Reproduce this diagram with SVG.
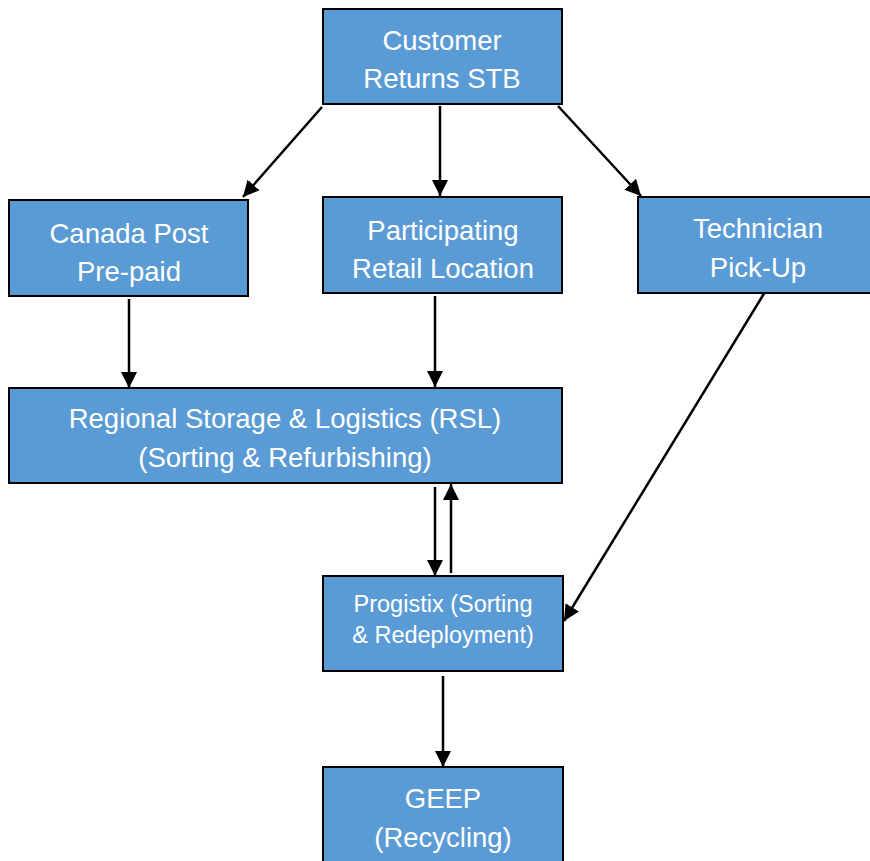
<svg xmlns="http://www.w3.org/2000/svg" width="870" height="861" viewBox="0 0 870 861">
<defs>
<marker id="ah" viewBox="0 0 10 10" refX="10" refY="5" markerWidth="6.4" markerHeight="6.4" orient="auto" markerUnits="strokeWidth">
<path d="M0,0 L10,5 L0,10 z" fill="#000"/>
</marker>
<style>
.box{fill:#5B9BD5;stroke:#000;stroke-width:2}
.t{font-family:"Liberation Sans",Arial,sans-serif;font-size:27.5px;fill:#fff;text-anchor:middle}
.s{font-size:23.5px}
.c{stroke:#000;stroke-width:2.5;fill:none;marker-end:url(#ah)}
</style>
</defs>
<rect width="870" height="861" fill="#fff"/>
<g id="connectors">
<line class="c" x1="322" y1="107" x2="243" y2="197"/>
<line class="c" x1="440" y1="106" x2="440" y2="196"/>
<line class="c" x1="558" y1="106" x2="641" y2="196"/>
<line class="c" x1="129" y1="299" x2="129" y2="388"/>
<line class="c" x1="435" y1="296" x2="435" y2="387"/>
<line class="c" x1="765" y1="292" x2="564" y2="621"/>
<line class="c" x1="435" y1="487" x2="435" y2="576"/>
<line class="c" x1="451" y1="573" x2="451" y2="484"/>
<line class="c" x1="443" y1="676" x2="443" y2="767"/>
</g>
<g id="customer">
<rect class="box" x="323" y="9" width="239" height="95"/>
<text class="t" x="442" y="50">Customer</text>
<text class="t" x="442" y="88">Returns STB</text>
</g>
<g id="canada">
<rect class="box" x="9" y="200" width="239" height="96"/>
<text class="t" x="129" y="243">Canada Post</text>
<text class="t" x="129" y="281">Pre-paid</text>
</g>
<g id="retail">
<rect class="box" x="323" y="197" width="239" height="96"/>
<text class="t" x="443" y="240">Participating</text>
<text class="t" x="443" y="278">Retail Location</text>
</g>
<g id="technician">
<rect class="box" x="638" y="197" width="240" height="96"/>
<text class="t" x="758" y="238">Technician</text>
<text class="t" x="758" y="277">Pick-Up</text>
</g>
<g id="rsl">
<rect class="box" x="9" y="388" width="553" height="95"/>
<text class="t" x="285" y="428">Regional Storage &amp; Logistics (RSL)</text>
<text class="t" x="285" y="467">(Sorting &amp; Refurbishing)</text>
</g>
<g id="progistix">
<rect class="box" x="323" y="576" width="240" height="95"/>
<text class="t s" x="443" y="612">Progistix (Sorting</text>
<text class="t s" x="443" y="643">&amp; Redeployment)</text>
</g>
<g id="geep">
<rect class="box" x="323" y="767" width="240" height="110"/>
<text class="t" x="443" y="808">GEEP</text>
<text class="t" x="443" y="847">(Recycling)</text>
</g>
</svg>
